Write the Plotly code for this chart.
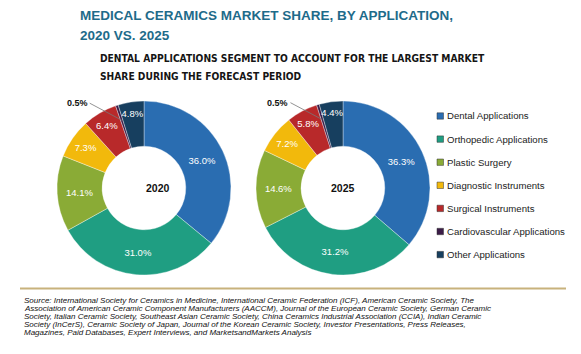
import math
import plotly.graph_objects as go

labels = ["Dental Applications", "Orthopedic Applications", "Plastic Surgery",
          "Diagnostic Instruments", "Surgical Instruments",
          "Cardiovascular Applications", "Other Applications"]
values_2020 = [36.0, 31.0, 14.1, 7.3, 6.4, 0.5, 4.8]
values_2025 = [36.3, 31.2, 14.6, 7.2, 5.8, 0.5, 4.4]
years = ["2020", "2025"]
colors = ["#2a6db1", "#1f9e82", "#8aab36", "#f2b90c", "#b8292a", "#3b1c48", "#173f5f"]

source_lines = [
    "Source: International Society for Ceramics in Medicine, International Ceramic Federation (ICF), American Ceramic Society, The",
    "Association of American Ceramic Component Manufacturers (AACCM), Journal of the European Ceramic Society, German Ceramic",
    "Society, Italian Ceramic Society, Southeast Asian Ceramic Society, China Ceramics Industrial Association (CCIA), Indian Ceramic",
    "Society (InCerS), Ceramic Society of Japan, Journal of the Korean Ceramic Society, Investor Presentations, Press Releases,",
    "Magazines, Paid Databases, Expert Interviews, and MarketsandMarkets Analysis",
]

W, H = 581, 354
SMALL = 0.5  # slices at or below this value get an outside callout

fig = go.Figure()
centers = [(144, 188), (343, 188)]
R = 87
for (cx, cy), vals, yr in zip(centers, [values_2020, values_2025], years):
    xd = [(cx - R) / W, (cx + R) / W]
    yd = [(H - cy - R) / H, (H - cy + R) / H]
    tpos = ["none" if v <= SMALL else "inside" for v in vals]
    fig.add_trace(go.Pie(
        labels=labels, values=vals, sort=False, direction="clockwise", rotation=0,
        hole=0.48, domain=dict(x=xd, y=yd),
        marker=dict(colors=colors, line=dict(color="rgba(255,255,255,0.6)", width=0.6)),
        texttemplate="%{value:.1f}%", textposition=tpos,
        insidetextorientation="horizontal",
        insidetextfont=dict(color="white", family="Liberation Sans", size=9.5),
        showlegend=False, hoverinfo="label+value",
    ))
    fig.add_annotation(x=(cx) / W, y=(H - cy) / H, xref="paper", yref="paper",
                       text="<b>%s</b>" % yr, showarrow=False,
                       font=dict(family="Liberation Sans", size=10.5, color="#111"))
    total = sum(vals)
    cum = 0
    for v in vals:
        if v <= SMALL:
            mid = (cum + v / 2) / total * 2 * math.pi
            rr = R * 0.82
            px = cx + rr * math.sin(mid)
            py = cy - rr * math.cos(mid)
            fig.add_annotation(x=px / W, y=(H - py) / H, xref="paper", yref="paper",
                               text="<b>%.1f%%</b>" % v, showarrow=True, arrowhead=0,
                               arrowwidth=0.8, arrowcolor="#777",
                               ax=-32, ay=-17, xanchor="right",
                               font=dict(family="Liberation Sans", size=9, color="#111"))
        cum += v

# manual legend
ly0, lgap = 116, 23.1
for i, (lab, col) in enumerate(zip(labels, colors)):
    y = ly0 + i * lgap
    fig.add_shape(type="rect", xref="paper", yref="paper",
                  x0=437 / W, x1=443.5 / W, y0=(H - y - 3.2) / H, y1=(H - y + 3.2) / H,
                  fillcolor=col, line=dict(width=0.5, color="#333"))
    fig.add_annotation(x=445 / W, y=(H - y) / H, xref="paper", yref="paper",
                       text=lab, showarrow=False, xanchor="left", yanchor="middle",
                       font=dict(family="Liberation Sans", size=9.6, color="#222"))

# titles
TF = dict(family="Liberation Sans", size=13.5, color="#1e6b8a")
fig.add_annotation(x=78 / W, y=(H - 15) / H, xref="paper", yref="paper", xanchor="left",
                   yanchor="middle", showarrow=False,
                   text="<b>MEDICAL CERAMICS MARKET SHARE, BY APPLICATION,</b>", font=TF)
fig.add_annotation(x=78 / W, y=(H - 35) / H, xref="paper", yref="paper", xanchor="left",
                   yanchor="middle", showarrow=False, text="<b>2020 VS. 2025</b>", font=TF)
SF = dict(family="DejaVu Sans Condensed, Roboto, sans-serif", size=10.2, color="#151515")
fig.add_annotation(x=98 / W, y=(H - 58) / H, xref="paper", yref="paper", xanchor="left",
                   yanchor="middle", showarrow=False,
                   text="<b>DENTAL APPLICATIONS SEGMENT TO ACCOUNT FOR THE LARGEST MARKET</b>",
                   font=SF)
fig.add_annotation(x=98 / W, y=(H - 76) / H, xref="paper", yref="paper", xanchor="left",
                   yanchor="middle", showarrow=False,
                   text="<b>SHARE DURING THE FORECAST PERIOD</b>", font=SF)

# separator line
fig.add_shape(type="line", xref="paper", yref="paper", x0=20 / W, x1=566 / W,
              y0=(H - 288.5) / H, y1=(H - 288.5) / H, line=dict(color="#c8b27c", width=2))

# source
for i, line in enumerate(source_lines):
    y = 300.5 + i * 8.0
    fig.add_annotation(x=22 / W, y=(H - y) / H, xref="paper", yref="paper", xanchor="left",
                       yanchor="middle", showarrow=False, text="<i>%s</i>" % line,
                       font=dict(family="Liberation Sans", size=8.0, color="#111"))

fig.update_layout(width=W, height=H, margin=dict(l=0, r=0, t=0, b=0),
                  paper_bgcolor="white", plot_bgcolor="white",
                  uniformtext=dict(minsize=9.5, mode="show"))
fig.write_html("out.html")
